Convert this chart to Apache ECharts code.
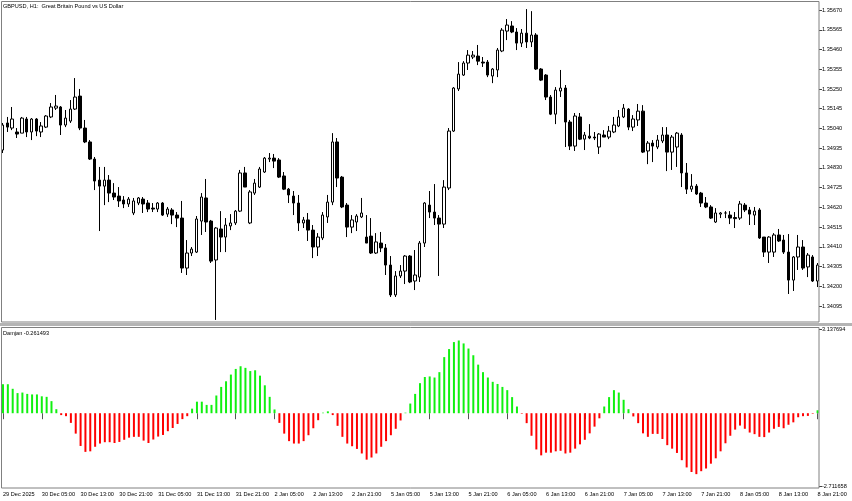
<!DOCTYPE html>
<html><head><meta charset="utf-8">
<script src="https://cdn.jsdelivr.net/npm/echarts@6/dist/echarts.min.js"></script>
<style>html,body{margin:0;padding:0;background:#fff}#c{width:852px;height:501px}</style>
</head><body><div id="c"></div>
<script>
const tickLabels = ['29 Dec 2025','30 Dec 05:00','30 Dec 13:00','30 Dec 21:00','31 Dec 05:00','31 Dec 13:00','31 Dec 21:00','2 Jan 05:00','2 Jan 13:00','2 Jan 21:00','5 Jan 05:00','5 Jan 13:00','5 Jan 21:00','6 Jan 05:00','6 Jan 13:00','6 Jan 21:00','7 Jan 05:00','7 Jan 13:00','7 Jan 21:00','8 Jan 05:00','8 Jan 13:00','8 Jan 21:00'];
const priceTicks = [1.34095,1.34200,1.34305,1.34410,1.34515,1.34620,1.34725,1.34830,1.34935,1.35040,1.35145,1.35250,1.35355,1.35460,1.35565,1.35670];
const indTicks = [3.137694,-2.711658];

const open = [1.34925,1.35069,1.35042,1.35021,1.35015,1.35090,1.35021,1.35090,1.35021,1.35047,
1.35101,1.35148,1.35154,1.35058,1.35079,1.35143,1.35212,1.35042,1.34968,1.34877,
1.34765,1.34733,1.34765,1.34696,1.34680,1.34659,1.34638,1.34590,1.34643,1.34664,
1.34643,1.34616,1.34611,1.34643,1.34584,1.34606,1.34579,1.34563,1.34297,1.34377,
1.34382,1.34547,1.34670,1.34547,1.34340,1.34505,1.34462,1.34521,1.34537,1.34600,
1.34803,1.34537,1.34696,1.34728,1.34808,1.34877,1.34882,1.34872,1.34787,1.34717,
1.34680,1.34643,1.34537,1.34553,1.34499,1.34409,1.34457,1.34569,1.34648,1.34968,
1.34781,1.34632,1.34515,1.34542,1.34569,1.34462,1.34467,1.34377,1.34430,1.34404,
1.34313,1.34154,1.34255,1.34281,1.34361,1.34228,1.34249,1.34430,1.34632,1.34595,
1.34563,1.34531,1.34723,1.35026,1.35250,1.35324,1.35388,1.35420,1.35425,1.35393,
1.35393,1.35319,1.35351,1.35452,1.35558,1.35585,1.35553,1.35494,1.35547,1.35500,
1.35537,1.35356,1.35324,1.35207,1.35116,1.35239,1.35255,1.35074,1.34946,1.35101,
1.34983,1.34999,1.34994,1.34941,1.35005,1.34994,1.35021,1.35053,1.35101,1.35143,
1.35047,1.35085,1.35132,1.34920,1.34962,1.34941,1.34973,1.35005,1.34914,1.34941,
1.35005,1.34803,1.34717,1.34733,1.34696,1.34643,1.34622,1.34542,1.34584,1.34590,
1.34579,1.34566,1.34563,1.34632,1.34606,1.34579,1.34606,1.34462,1.34382,1.34382,
1.34473,1.34446,1.34382,1.34233,1.34356,1.34409,1.34303,1.34356,1.34228];
const high = [1.35069,1.35101,1.35154,1.35042,1.35101,1.35101,1.35095,1.35095,1.35074,1.35111,
1.35175,1.35218,1.35159,1.35138,1.35191,1.35308,1.35250,1.35085,1.34978,1.34888,
1.34835,1.34835,1.34792,1.34749,1.34728,1.34680,1.34675,1.34670,1.34675,1.34675,
1.34659,1.34643,1.34648,1.34648,1.34622,1.34616,1.34595,1.34654,1.34446,1.34409,
1.34574,1.34696,1.34771,1.34553,1.34515,1.34600,1.34563,1.34584,1.34606,1.34819,
1.34835,1.34712,1.34771,1.34835,1.34888,1.34909,1.34904,1.34882,1.34808,1.34723,
1.34707,1.34686,1.34569,1.34590,1.34526,1.34483,1.34595,1.34686,1.35015,1.34989,
1.34787,1.34643,1.34579,1.34584,1.34670,1.34579,1.34563,1.34483,1.34489,1.34425,
1.34361,1.34281,1.34313,1.34366,1.34366,1.34393,1.34441,1.34648,1.34707,1.34744,
1.34579,1.34765,1.35042,1.35260,1.35393,1.35398,1.35457,1.35452,1.35484,1.35420,
1.35404,1.35361,1.35468,1.35574,1.35622,1.35611,1.35574,1.35569,1.35675,1.35664,
1.35547,1.35361,1.35329,1.35218,1.35260,1.35351,1.35271,1.35085,1.35122,1.35122,
1.35021,1.35063,1.35021,1.35015,1.35031,1.35053,1.35101,1.35138,1.35170,1.35148,
1.35111,1.35170,1.35164,1.34973,1.34978,1.35005,1.35047,1.35047,1.35005,1.35021,
1.35015,1.34856,1.34797,1.34744,1.34702,1.34675,1.34632,1.34616,1.34595,1.34600,
1.34600,1.34595,1.34654,1.34643,1.34622,1.34622,1.34616,1.34462,1.34467,1.34483,
1.34505,1.34473,1.34478,1.34361,1.34473,1.34446,1.34377,1.34366,1.34324];
const low = [1.34909,1.35021,1.35031,1.34989,1.35015,1.34994,1.34978,1.34999,1.34994,1.35042,
1.35095,1.35138,1.35005,1.35047,1.35069,1.35138,1.35031,1.34962,1.34872,1.34712,
1.34494,1.34632,1.34648,1.34659,1.34622,1.34616,1.34622,1.34579,1.34632,1.34590,
1.34595,1.34595,1.34595,1.34574,1.34569,1.34531,1.34515,1.34271,1.34260,1.34361,
1.34377,1.34473,1.34489,1.34324,1.34021,1.34382,1.34382,1.34499,1.34526,1.34595,
1.34728,1.34531,1.34686,1.34723,1.34803,1.34861,1.34829,1.34776,1.34712,1.34643,
1.34579,1.34494,1.34510,1.34441,1.34350,1.34361,1.34446,1.34537,1.34632,1.34728,
1.34616,1.34462,1.34483,1.34494,1.34563,1.34430,1.34372,1.34372,1.34382,1.34260,
1.34143,1.34143,1.34244,1.34212,1.34217,1.34180,1.34223,1.34409,1.34563,1.34526,
1.34255,1.34510,1.34712,1.35021,1.35239,1.35319,1.35351,1.35409,1.35377,1.35367,
1.35313,1.35281,1.35313,1.35446,1.35510,1.35547,1.35457,1.35473,1.35468,1.35473,
1.35351,1.35292,1.35191,1.35111,1.35063,1.35207,1.34941,1.34925,1.34920,1.34978,
1.34925,1.34983,1.34978,1.34904,1.34994,1.34983,1.35015,1.35047,1.35095,1.35031,
1.35026,1.35053,1.34909,1.34850,1.34861,1.34930,1.34962,1.34813,1.34819,1.34835,
1.34728,1.34691,1.34702,1.34686,1.34622,1.34616,1.34558,1.34537,1.34563,1.34563,
1.34531,1.34510,1.34553,1.34595,1.34526,1.34526,1.34452,1.34356,1.34324,1.34356,
1.34436,1.34372,1.34159,1.34175,1.34287,1.34287,1.34249,1.34223,1.34196];
const close = [1.35058,1.35047,1.35090,1.35010,1.35095,1.35021,1.35090,1.35026,1.35053,1.35106,
1.35154,1.35159,1.35058,1.35095,1.35143,1.35207,1.35042,1.34968,1.34877,1.34760,
1.34733,1.34765,1.34696,1.34675,1.34654,1.34638,1.34664,1.34654,1.34670,1.34638,
1.34611,1.34611,1.34643,1.34579,1.34611,1.34579,1.34563,1.34297,1.34377,1.34398,
1.34558,1.34675,1.34542,1.34334,1.34510,1.34462,1.34526,1.34537,1.34600,1.34803,
1.34728,1.34702,1.34749,1.34824,1.34882,1.34882,1.34866,1.34781,1.34717,1.34686,
1.34643,1.34537,1.34553,1.34499,1.34409,1.34462,1.34579,1.34648,1.34968,1.34776,
1.34622,1.34515,1.34553,1.34574,1.34590,1.34430,1.34377,1.34436,1.34404,1.34313,
1.34154,1.34255,1.34281,1.34361,1.34223,1.34260,1.34430,1.34643,1.34595,1.34563,
1.34531,1.34728,1.35026,1.35255,1.35329,1.35388,1.35430,1.35430,1.35398,1.35388,
1.35324,1.35356,1.35457,1.35563,1.35590,1.35553,1.35494,1.35547,1.35500,1.35537,
1.35356,1.35297,1.35207,1.35116,1.35244,1.35255,1.35074,1.34946,1.35106,1.34983,
1.35005,1.34989,1.34989,1.35010,1.34994,1.35026,1.35058,1.35101,1.35148,1.35047,
1.35090,1.35132,1.34914,1.34962,1.34946,1.34978,1.35005,1.34914,1.34994,1.35015,
1.34803,1.34717,1.34733,1.34691,1.34643,1.34622,1.34563,1.34590,1.34590,1.34590,
1.34563,1.34560,1.34638,1.34606,1.34584,1.34600,1.34457,1.34382,1.34462,1.34473,
1.34441,1.34382,1.34233,1.34356,1.34409,1.34297,1.34366,1.34228,1.34313];
const damjan = [1.08,1.08,0.91,0.75,0.77,0.72,0.70,0.70,0.63,0.61,
0.45,0.15,-0.07,-0.11,-0.36,-0.76,-1.22,-1.44,-1.42,-1.25,
-1.13,-1.08,-1.08,-1.11,-1.07,-0.99,-0.91,-0.88,-0.88,-1.02,
-1.11,-0.98,-0.87,-0.81,-0.67,-0.55,-0.40,-0.22,-0.11,0.17,
0.43,0.43,0.31,0.31,0.66,0.98,1.19,1.44,1.65,1.75,
1.69,1.57,1.60,1.40,1.04,0.61,0.14,-0.36,-0.76,-1.04,
-1.13,-1.13,-1.04,-0.82,-0.56,-0.26,0.02,0.07,-0.07,-0.47,
-0.88,-1.13,-1.23,-1.33,-1.50,-1.73,-1.65,-1.50,-1.25,-1.04,
-0.82,-0.58,-0.27,0.02,0.36,0.72,1.12,1.35,1.37,1.33,
1.53,2.09,2.39,2.65,2.71,2.60,2.41,2.16,1.81,1.53,
1.33,1.17,1.09,0.98,0.86,0.60,0.25,-0.02,-0.37,-0.84,
-1.35,-1.57,-1.47,-1.47,-1.42,-1.40,-1.50,-1.47,-1.32,-1.16,
-0.99,-0.75,-0.50,-0.19,0.25,0.60,0.86,0.77,0.50,0.15,
-0.12,-0.37,-0.75,-0.88,-0.77,-0.77,-0.96,-1.19,-1.32,-1.48,
-1.75,-2.02,-2.19,-2.27,-2.16,-2.06,-1.88,-1.68,-1.42,-1.12,
-0.84,-0.61,-0.46,-0.58,-0.72,-0.78,-0.88,-0.89,-0.72,-0.58,
-0.51,-0.56,-0.43,-0.34,-0.15,-0.11,-0.10,-0.02,0.11];

const categories = open.map((_, i) => i);
const candles = open.map((o, i) => [o, close[i], low[i], high[i]]);
const FONT = 'Liberation Sans';
const FS = 5.6;
const every8 = (i) => i % 8 === 0;

const chart = echarts.init(document.getElementById('c'), null, {renderer: 'canvas'});
chart.setOption({
  animation: false,
  backgroundColor: '#ffffff',
  grid: [
    {left: 0, top: 1, width: 820, height: 321},
    {left: 0, top: 329, width: 820, height: 157}
  ],
  xAxis: [
    {type: 'category', gridIndex: 0, data: categories, boundaryGap: true, show: false},
    {type: 'category', gridIndex: 1, data: categories, boundaryGap: true,
      axisLine: {show: false},
      axisTick: {show: true, interval: every8, alignWithLabel: true, length: 6, lineStyle: {color: '#555'}},
      axisLabel: {interval: every8, align: 'left', fontSize: FS, fontFamily: FONT, color: '#000', margin: 5,
        formatter: (v, i) => tickLabels[Math.round(i / 8)] || ''},
      splitLine: {show: false}}
  ],
  yAxis: [
    {type: 'value', gridIndex: 0, position: 'right', offset: -1, min: 1.34010, max: 1.35718, scale: true,
      axisLine: {show: false}, splitLine: {show: false},
      axisTick: {show: true, customValues: priceTicks, length: 3, lineStyle: {color: '#444'}},
      axisLabel: {customValues: priceTicks, formatter: v => v.toFixed(5), fontSize: FS, fontFamily: FONT, color: '#000', margin: 3}},
    {type: 'value', gridIndex: 1, position: 'right', offset: -1, min: -2.711658, max: 3.137694,
      axisLine: {show: false}, splitLine: {show: false},
      axisTick: {show: true, customValues: indTicks, length: 3, lineStyle: {color: '#444'}},
      axisLabel: {customValues: indTicks, formatter: v => v.toFixed(6), fontSize: FS, fontFamily: FONT, color: '#000', margin: 3}}
  ],
  series: [
    {type: 'candlestick', xAxisIndex: 0, yAxisIndex: 0, data: candles, barWidth: 3,
      itemStyle: {color: '#ffffff', color0: '#000000', borderColor: '#000000', borderColor0: '#000000', borderWidth: 1}},
    {type: 'bar', xAxisIndex: 1, yAxisIndex: 1, data: damjan, barWidth: 2,
      itemStyle: {color: p => p.value >= 0 ? '#10f010' : '#ff0000'}}
  ],
  graphic: [
    {type: 'rect', z: 100, silent: true, shape: {x: 1.5, y: 1.5, width: 817.5, height: 320.5}, style: {fill: 'none', stroke: '#808080', lineWidth: 1}},
    {type: 'rect', z: 100, silent: true, shape: {x: 0, y: 323, width: 852, height: 3}, style: {fill: '#b4b4b4'}},
    {type: 'rect', z: 100, silent: true, shape: {x: 1.5, y: 327.5, width: 817.5, height: 160.5}, style: {fill: 'none', stroke: '#808080', lineWidth: 1}},
    {type: 'text', z: 100, left: 3, top: 3, style: {text: 'GBPUSD, H1:  Great Britain Pound vs US Dollar', font: FS + 'px ' + FONT, fill: '#000'}},
    {type: 'text', z: 100, left: 3, top: 330, style: {text: 'Damjan -0.261493', font: FS + 'px ' + FONT, fill: '#000'}}
  ]
});
</script></body></html>
